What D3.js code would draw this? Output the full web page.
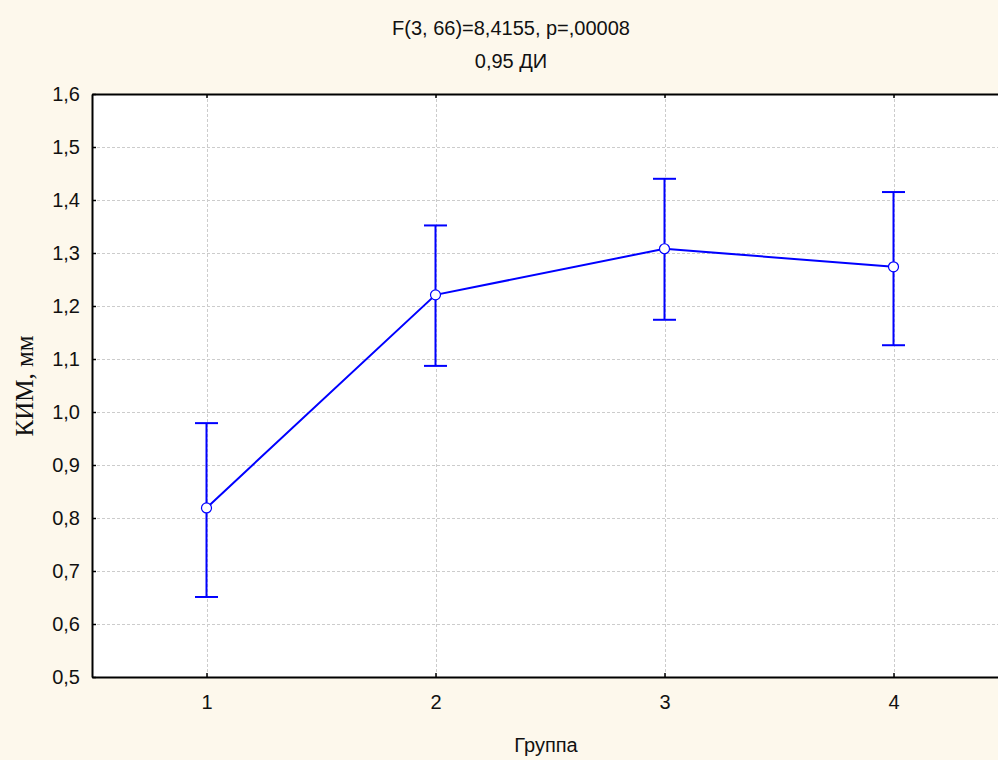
<!DOCTYPE html>
<html>
<head>
<meta charset="utf-8">
<script src="https://cdn.jsdelivr.net/npm/d3@7/dist/d3.min.js"></script>
<style>
  html, body { margin: 0; padding: 0; background: #FDF8EC; }
  svg { display: block; }
</style>
</head>
<body>
<svg id="chart" width="998" height="760"></svg>
<script>
// Group means with 0.95 confidence intervals
const groups = [1, 2, 3, 4];
const means = [0.819, 1.221, 1.308, 1.274];
const lower = [0.651, 1.087, 1.174, 1.126];
const upper = [0.979, 1.352, 1.440, 1.415];
const yTicks = [0.5, 0.6, 0.7, 0.8, 0.9, 1.0, 1.1, 1.2, 1.3, 1.4, 1.5, 1.6];
const titleLines = ["F(3, 66)=8,4155, p=,00008", "0,95 ДИ"];

const W = 998, H = 760;
const plot = { left: 92, top: 94, right: 1008, bottom: 677 };
const svg = d3.select("#chart");
const sans = "Arial, 'Liberation Sans', sans-serif";

const x = d3.scaleLinear().domain([0.5, 4.5]).range([plot.left, plot.right]);
const y = d3.scaleLinear().domain([0.5, 1.6]).range([plot.bottom, plot.top]);
const fmt = d => d3.format(".1f")(d).replace(".", ",");

// plot area
svg.append("rect")
  .attr("x", plot.left).attr("y", plot.top)
  .attr("width", plot.right - plot.left).attr("height", plot.bottom - plot.top)
  .attr("fill", "#ffffff");

// grid
const grid = svg.append("g").attr("stroke", "#cccccc").attr("stroke-width", 1)
  .attr("stroke-dasharray", "3,2").attr("shape-rendering", "crispEdges");
grid.selectAll("line.h").data(yTicks.slice(1, -1)).join("line")
  .attr("x1", plot.left).attr("x2", plot.right)
  .attr("y1", d => Math.round(y(d)) + 0.5).attr("y2", d => Math.round(y(d)) + 0.5);
grid.selectAll("line.v").data(groups).join("line")
  .attr("y1", plot.top).attr("y2", plot.bottom)
  .attr("x1", d => Math.round(x(d)) + 0.5).attr("x2", d => Math.round(x(d)) + 0.5);

// axes with inward ticks
const yAxis = svg.append("g").attr("transform", `translate(${plot.left},0)`)
  .call(d3.axisLeft(y).tickValues(yTicks).tickFormat(fmt).tickSizeInner(-4).tickSizeOuter(0).tickPadding(12));
const xAxis = svg.append("g").attr("transform", `translate(0,${plot.bottom})`)
  .call(d3.axisBottom(x).tickValues(groups).tickFormat(d3.format("d")).tickSizeInner(-4).tickSizeOuter(0).tickPadding(18));
const xTop = svg.append("g").attr("transform", `translate(0,${plot.top})`)
  .call(d3.axisTop(x).tickValues(groups).tickFormat("").tickSizeInner(-4).tickSizeOuter(0));

[yAxis, xAxis, xTop].forEach(g => {
  g.select(".domain").attr("stroke", "#000").attr("stroke-width", 2);
  g.selectAll(".tick line").attr("stroke", "#000").attr("stroke-width", 1.5);
  g.selectAll("text").attr("fill", "#111")
    .style("font-family", sans).style("font-size", "20px");
});

// titles
svg.append("g").selectAll("text").data(titleLines).join("text")
  .attr("x", 511).attr("y", (d, i) => 35 + i * 33)
  .attr("text-anchor", "middle").attr("fill", "#111")
  .style("font-family", sans).style("font-size", "20px")
  .text(d => d);

// axis labels
svg.append("text").attr("x", 546).attr("y", 752).attr("text-anchor", "middle")
  .attr("fill", "#111").style("font-family", sans).style("font-size", "20px")
  .text("Группа");
svg.append("text").attr("transform", "translate(33,386) rotate(-90)").attr("text-anchor", "middle")
  .attr("fill", "#111").style("font-family", "'Times New Roman', 'Liberation Serif', serif").style("font-size", "25px")
  .text("КИМ, мм");

// confidence interval whiskers
const data = groups.map((g, i) => ({ g, m: means[i], lo: lower[i], hi: upper[i] }));
const blue = "#0000ff";
const cap = 11.5;
const eb = svg.append("g").attr("stroke", blue).attr("stroke-width", 2);
eb.selectAll("line.v").data(data).join("line")
  .attr("x1", d => x(d.g)).attr("x2", d => x(d.g))
  .attr("y1", d => y(d.lo)).attr("y2", d => y(d.hi));
eb.selectAll("line.t").data(data).join("line")
  .attr("x1", d => x(d.g) - cap).attr("x2", d => x(d.g) + cap)
  .attr("y1", d => y(d.hi)).attr("y2", d => y(d.hi));
eb.selectAll("line.b").data(data).join("line")
  .attr("x1", d => x(d.g) - cap).attr("x2", d => x(d.g) + cap)
  .attr("y1", d => y(d.lo)).attr("y2", d => y(d.lo));

// mean line
svg.append("path").datum(data)
  .attr("fill", "none").attr("stroke", blue).attr("stroke-width", 2)
  .attr("d", d3.line().x(d => x(d.g)).y(d => y(d.m)));

// mean markers
svg.append("g").selectAll("circle").data(data).join("circle")
  .attr("cx", d => x(d.g)).attr("cy", d => y(d.m)).attr("r", 5)
  .attr("fill", "#fff").attr("stroke", blue).attr("stroke-width", 1.2);
</script>
</body>
</html>
